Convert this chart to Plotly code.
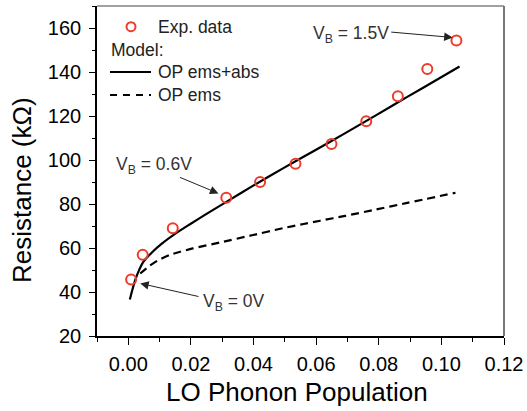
import plotly.graph_objects as go

# Experimental data
exp_x = [0.0009, 0.0046, 0.0142, 0.0313, 0.0421, 0.0534, 0.0649, 0.0760, 0.0861, 0.0955, 0.1048]
exp_y = [45.7, 56.9, 69.0, 82.8, 90.0, 98.3, 107.3, 117.6, 129.0, 141.4, 154.3]

# Model: OP ems+abs (solid)
abs_x = [0.0005, 0.0013, 0.0022, 0.0033, 0.0048, 0.0077, 0.0107, 0.0147, 0.0197, 0.0246, 0.0316, 0.0395, 0.0494, 0.0594, 0.0693, 0.0792, 0.0891, 0.0991, 0.1058]
abs_y = [36.6, 41.0, 45.4, 49.5, 53.7, 58.2, 62.0, 66.2, 70.8, 75.2, 81.2, 88.0, 96.2, 104.2, 112.2, 120.4, 128.7, 136.9, 142.5]

# Model: OP ems (dashed)
ems_x = [0.0038, 0.0067, 0.0096, 0.0132, 0.0166, 0.0206, 0.0296, 0.0395, 0.0494, 0.0560, 0.0613, 0.0693, 0.0792, 0.0891, 0.1045]
ems_y = [48.4, 51.8, 54.5, 56.8, 58.3, 59.8, 62.6, 65.8, 69.0, 70.9, 72.4, 74.6, 77.5, 80.5, 85.1]

x_ticks = [0.00, 0.02, 0.04, 0.06, 0.08, 0.10, 0.12]
x_tick_text = ["0.00", "0.02", "0.04", "0.06", "0.08", "0.10", "0.12"]
y_ticks = [20, 40, 60, 80, 100, 120, 140, 160]

FONT = "Liberation Sans, Arial, sans-serif"
RED = "#ee3b2b"

fig = go.Figure()
fig.add_trace(go.Scatter(x=abs_x, y=abs_y, mode="lines",
                         line=dict(color="black", width=2.2, shape="spline", smoothing=0.6), name="OP ems+abs"))
fig.add_trace(go.Scatter(x=ems_x, y=ems_y, mode="lines",
                         line=dict(color="black", width=2.2, dash="8px,5px", shape="spline", smoothing=0.6),
                         name="OP ems"))
fig.add_trace(go.Scatter(x=exp_x, y=exp_y, mode="markers",
                         marker=dict(symbol="circle-open", size=10, color=RED, line=dict(width=2, color=RED)),
                         name="Exp. data"))

L, R, T, B = 97, 23, 6, 75
W, H = 527, 411
pw, ph = W - L - R, H - T - B


def px(xp):
    return (xp - L) / pw


def py(yp):
    return (H - B - yp) / ph


shapes = []
annotations = []
legend_color = "#222222"
# frame: top and right in grey
shapes.append(dict(type="line", xref="paper", yref="paper", x0=0, x1=1, y0=1, y1=1,
                   line=dict(color="#444444", width=1.2)))
shapes.append(dict(type="line", xref="paper", yref="paper", x0=1, x1=1, y0=0, y1=1,
                   line=dict(color="#777777", width=2)))
# legend
shapes.append(dict(type="circle", xref="paper", yref="paper", xsizemode="pixel", ysizemode="pixel",
                   xanchor=px(131), yanchor=py(26.7), x0=-4.5, x1=4.5, y0=-4.5, y1=4.5,
                   line=dict(color=RED, width=2)))
shapes.append(dict(type="line", xref="paper", yref="paper", x0=px(110), x1=px(151), y0=py(72), y1=py(72),
                   line=dict(color="black", width=2)))
shapes.append(dict(type="line", xref="paper", yref="paper", x0=px(110), x1=px(151), y0=py(95), y1=py(95),
                   line=dict(color="black", width=2, dash="7px,6px")))
for text, xp, yp in [("Exp. data", 156, 26.7), ("Model:", 109, 50), ("OP ems+abs", 156, 72), ("OP ems", 156, 95)]:
    annotations.append(dict(text=text, xref="paper", yref="paper", x=px(xp), y=py(yp),
                            xanchor="left", yanchor="middle", showarrow=False,
                            font=dict(family=FONT, size=17.5, color=legend_color)))

# axis titles
annotations.append(dict(text="Resistance (kΩ)", xref="paper", yref="paper", x=px(22), y=py(190),
                        xanchor="center", yanchor="middle", textangle=-90, showarrow=False,
                        font=dict(family=FONT, size=26, color="black")))
annotations.append(dict(text="LO Phonon Population", xref="paper", yref="paper", x=px(297), y=py(392),
                        xanchor="center", yanchor="middle", showarrow=False,
                        font=dict(family=FONT, size=26, color="black")))

# V_B annotations
label_font = dict(family=FONT, size=17.5, color="#333333")
for text, x, y in [("V<sub>B</sub> = 1.5V", 0.0710, 157.0),
                   ("V<sub>B</sub> = 0.6V", 0.0082, 97.5),
                   ("V<sub>B</sub> = 0V", 0.0336, 35.3)]:
    annotations.append(dict(text=text, x=x, y=y, xref="x", yref="y", showarrow=False,
                            xanchor="center", yanchor="middle", font=label_font))
for (tx, ty, hx, hy) in [(0.0835, 158.2, 0.1036, 155.7),
                         (0.0160, 92.4, 0.0288, 84.8),
                         (0.0229, 37.8, 0.0038, 43.9)]:
    annotations.append(dict(text="", x=hx, y=hy, ax=tx, ay=ty, xref="x", yref="y", axref="x", ayref="y",
                            showarrow=True, arrowhead=2, arrowsize=1.7, arrowwidth=1, arrowcolor="#222222"))

fig.update_layout(
    width=W, height=H,
    margin=dict(l=L, r=R, t=T, b=B),
    paper_bgcolor="white", plot_bgcolor="white",
    showlegend=False,
    font=dict(family=FONT, color="black"),
    shapes=shapes, annotations=annotations,
)
fig.update_xaxes(range=[-0.01, 0.12], tickvals=x_ticks, ticktext=x_tick_text, automargin=False,
                 ticks="outside", ticklen=7, tickwidth=1.3, tickcolor="black",
                 minor=dict(dtick=0.01, tick0=0, ticks="outside", ticklen=4.5, tickcolor="black"),
                 showline=True, linecolor="black", linewidth=1.6, mirror=False,
                 showgrid=False, zeroline=False, ticklabelstandoff=2,
                 tickfont=dict(size=20, family=FONT))
fig.update_yaxes(range=[20, 170], tickvals=y_ticks, automargin=False,
                 ticks="outside", ticklen=6, tickwidth=1.3, tickcolor="black",
                 minor=dict(dtick=10, tick0=0, ticks="outside", ticklen=3.5, tickcolor="black"),
                 showline=True, linecolor="black", linewidth=1.6, mirror=False,
                 showgrid=False, zeroline=False, ticklabelstandoff=4,
                 tickfont=dict(size=20, family=FONT))

fig.write_html("out.html", config={"displayModeBar": False},
               post_script="document.body.style.margin='0px';document.body.style.padding='0px';")
